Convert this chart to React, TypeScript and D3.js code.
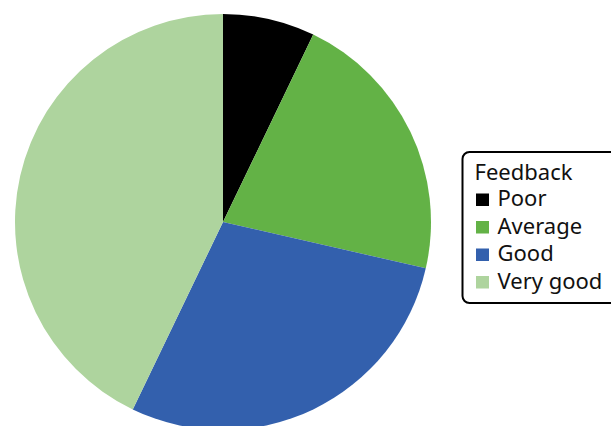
import React from "react";
import * as d3 from "d3";

const categories = ["Poor", "Average", "Good", "Very good"];
const values = [5, 15, 20, 30];
const colors = ["#000000", "#63b246", "#3360ad", "#aed49e"];
const legendTitle = "Feedback";

export default function App() {
  const width = 611;
  const height = 426;
  const cx = 223;
  const cy = 222;
  const r = 208;

  const pie = d3.pie<number>().sort(null).value((d) => d);
  const arcs = pie(values);
  const arc = d3.arc<d3.PieArcDatum<number>>().innerRadius(0).outerRadius(r);

  const lx = 462.5;
  const ly = 152;
  const rowY = d3.scaleLinear().domain([0, 1]).range([206, 233.5]);

  return (
    <svg
      width={width}
      height={height}
      style={{ position: "absolute", left: 0, top: 0, background: "#fff" }}
    >
      <g transform={`translate(${cx},${cy})`}>
        {arcs.map((a, i) => (
          <path key={categories[i]} d={arc(a) || ""} fill={colors[i]} />
        ))}
      </g>
      <rect
        x={lx}
        y={ly}
        width={170}
        height={151}
        rx={7}
        ry={7}
        fill="#fff"
        stroke="#000"
        strokeWidth={2}
      />
      <g fontFamily="'Noto Sans', sans-serif" fontSize={22} fill="#111">
        <text x={474.5} y={180}>
          {legendTitle}
        </text>
        {categories.map((c, i) => (
          <g key={c}>
            <rect x={476} y={rowY(i) - 12.5} width={13} height={12.5} fill={colors[i]} />
            <text x={497.5} y={rowY(i)}>
              {c}
            </text>
          </g>
        ))}
      </g>
    </svg>
  );
}
